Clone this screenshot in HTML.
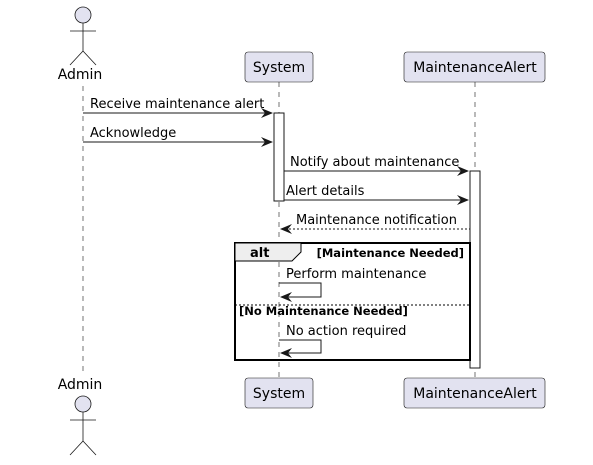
<!DOCTYPE html>
<html><head><style>html,body{margin:0;padding:0;background:#fff}svg{display:block}</style></head>
<body>
<svg width="593" height="465" viewBox="0 0 593 465" xmlns="http://www.w3.org/2000/svg" font-family="DejaVu Sans, Liberation Sans, sans-serif">
<rect width="593" height="465" fill="#fff"/>
<g stroke="#181818" stroke-dasharray="5,5" stroke-width="0.6">
<line x1="83" y1="86" x2="83" y2="375"/>
<line x1="279" y1="82" x2="279" y2="378"/>
<line x1="475" y1="82" x2="475" y2="378"/>
</g>
<g stroke="#181818" stroke-width="0.8" fill="none">
<circle cx="83" cy="15" r="8" fill="#E2E2F0"/>
<line x1="83" y1="23" x2="83" y2="51"/><line x1="70" y1="31" x2="96" y2="31"/>
<line x1="83" y1="51" x2="70" y2="65"/><line x1="83" y1="51" x2="96" y2="65"/>
<circle cx="83" cy="404" r="8" fill="#E2E2F0"/>
<line x1="83" y1="412" x2="83" y2="441"/><line x1="70" y1="420" x2="96" y2="420"/>
<line x1="83" y1="441" x2="70" y2="455"/><line x1="83" y1="441" x2="96" y2="455"/>
</g>
<g font-size="14" fill="#000" text-anchor="middle">
<text x="80" y="79">Admin</text><text x="80" y="389">Admin</text>
</g>
<g fill="#E2E2F0" stroke="#181818" stroke-width="0.6">
<rect x="245" y="52" width="68" height="30" rx="3"/>
<rect x="404" y="52" width="141" height="30" rx="3"/>
<rect x="245" y="378" width="68" height="30" rx="3"/>
<rect x="404" y="378" width="141" height="30" rx="3"/>
</g>
<g font-size="14" fill="#000" text-anchor="middle">
<text x="279" y="72">System</text><text x="475" y="72">MaintenanceAlert</text>
<text x="279" y="398">System</text><text x="475" y="398">MaintenanceAlert</text>
</g>
<rect x="274" y="113" width="10" height="88" fill="#fff" stroke="#181818" stroke-width="1"/>
<rect x="470" y="171" width="10" height="197" fill="#fff" stroke="#181818" stroke-width="1"/>
<rect x="235" y="243" width="235" height="117" fill="none" stroke="#000" stroke-width="2"/>
<path d="M235 243 H301 V252 L292 261 H235 Z" fill="#EEEEEE" stroke="#000" stroke-width="1"/>
<line x1="235" y1="305" x2="470" y2="305" stroke="#000" stroke-width="1" stroke-dasharray="2,2"/>
<g font-size="11.5" font-weight="bold" fill="#000">
<text x="250" y="257" font-size="13">alt</text>
<text x="464" y="257" text-anchor="end">[Maintenance Needed]</text>
<text x="239" y="315">[No Maintenance Needed]</text>
</g>
<g stroke="#181818" stroke-width="1" fill="none">
<line x1="83" y1="113" x2="272" y2="113"/>
<line x1="83" y1="142" x2="272" y2="142"/>
<line x1="284" y1="171" x2="468" y2="171"/>
<line x1="284" y1="200" x2="468" y2="200"/>
<line x1="281" y1="229" x2="470" y2="229" stroke-dasharray="2,2"/>
<polyline points="279,283 321,283 321,297 281,297"/>
<polyline points="279,340 321,340 321,353 281,353"/>
</g>
<g fill="#181818">
<path d="M273 113 L261 108 L265 113 L261 118Z"/>
<path d="M273 142 L261 137 L265 142 L261 147Z"/>
<path d="M469 171 L457 166 L461 171 L457 176Z"/>
<path d="M469 200 L457 195 L461 200 L457 205Z"/>
<path d="M280 229 L292 224 L288 229 L292 234Z"/>
<path d="M280 297 L292 292 L288 297 L292 302Z"/>
<path d="M280 353 L292 348 L288 353 L292 358Z"/>
</g>
<g font-size="13" fill="#000">
<text x="90" y="108">Receive maintenance alert</text>
<text x="90" y="137">Acknowledge</text>
<text x="290" y="166">Notify about maintenance</text>
<text x="286" y="195">Alert details</text>
<text x="296" y="224">Maintenance notification</text>
<text x="286" y="278">Perform maintenance</text>
<text x="286" y="335">No action required</text>
</g>
</svg>
</body></html>
